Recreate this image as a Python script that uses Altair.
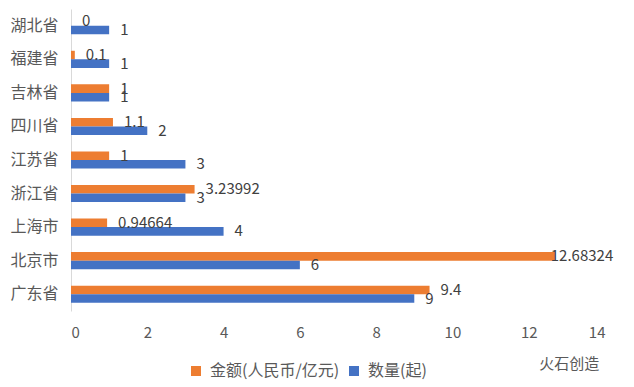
import altair as alt
import pandas as pd

provinces = ["湖北省", "福建省", "吉林省", "四川省", "江苏省", "浙江省", "上海市", "北京市", "广东省"]
amount = [0, 0.1, 1, 1.1, 1, 3.23992, 0.94664, 12.68324, 9.4]
count = [1, 1, 1, 2, 3, 3, 4, 6, 9]
series = ["金额(人民币/亿元)", "数量(起)"]
x_ticks = [0, 2, 4, 6, 8, 10, 12, 14]

rows = []
for p, a, c in zip(provinces, amount, count):
    rows.append({"province": p, "series": series[0], "value": a, "label": str(a)})
    rows.append({"province": p, "series": series[1], "value": c, "label": str(c)})
df = pd.DataFrame(rows)

FONT = "Noto Sans CJK SC"
ORANGE = "#ED7D31"
BLUE = "#4472C4"

y_enc = alt.Y(
    "province:N",
    sort=provinces,
    scale=alt.Scale(paddingInner=0.49, paddingOuter=0.245),
    axis=alt.Axis(
        title=None, ticks=False, labelPadding=13, labelFontSize=16,
        labelColor="#595959", domainColor="#D9D9D9", labelFont=FONT,
    ),
)
yoff_enc = alt.YOffset("series:N", sort=series, scale=alt.Scale(paddingInner=0, paddingOuter=0))
x_enc = alt.X(
    "value:Q",
    scale=alt.Scale(domain=[0, 14], nice=False),
    axis=alt.Axis(
        title=None, values=x_ticks, grid=False, domain=False, ticks=False,
        labelPadding=14, labelFontSize=15, labelColor="#595959", labelFont=FONT,
    ),
)

base = alt.Chart(df)

bars = base.mark_bar().encode(
    y=y_enc,
    yOffset=yoff_enc,
    x=x_enc,
    color=alt.Color(
        "series:N",
        sort=series,
        scale=alt.Scale(domain=series, range=[ORANGE, BLUE]),
        legend=alt.Legend(
            title=None, orient="none", direction="horizontal",
            legendX=117, legendY=354,
            symbolType="square", symbolSize=100, symbolStrokeWidth=0,
            labelFontSize=16, labelColor="#595959", labelFont=FONT,
            labelOffset=6, columnPadding=6, labelLimit=400,
        ),
    ),
)

labels = base.mark_text(
    align="left", baseline="middle", dx=11, fontSize=15, color="#404040", font=FONT
).encode(
    y=y_enc, yOffset=yoff_enc, x=x_enc, text="label:N"
).transform_filter("datum.value < 12")

labels_big = base.mark_text(
    align="left", baseline="middle", dx=-4, fontSize=15, color="#404040", font=FONT
).encode(
    y=y_enc, yOffset=yoff_enc, x=x_enc, text="label:N"
).transform_filter("datum.value >= 12")

chart = alt.layer(bars, labels, labels_big).properties(
    width=534,
    height=302,
    autosize=alt.AutoSizeParams(type="none"),
    padding={"left": 63, "top": 1, "right": 21, "bottom": 76},
    title=alt.Title(
        "火石创造", orient="bottom", anchor="end", fontSize=15,
        fontWeight="normal", color="#595959", font=FONT, offset=-22, dx=-14,
    ),
).configure(font=FONT).configure_view(strokeWidth=0, stroke=None)

chart.save("out.html", embed_options={"renderer": "svg", "actions": False})
